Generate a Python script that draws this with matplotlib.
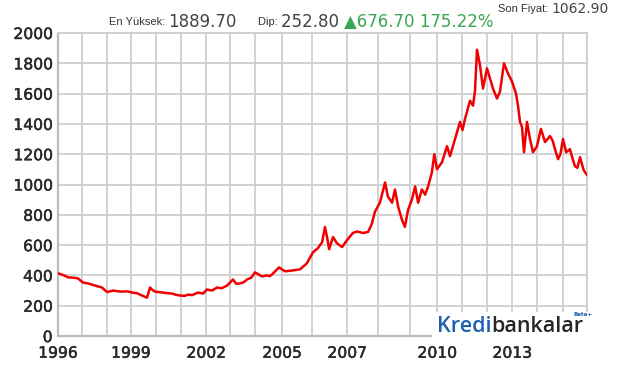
import numpy as np
import matplotlib
matplotlib.use("Agg")
import matplotlib.pyplot as plt
import matplotlib.patheffects as pe
from matplotlib.patches import Rectangle

# ---- data (decimal year, gold price) ----
dates = [1996.04, 1996.25, 1996.42, 1996.65, 1996.83, 1997.04, 1997.24, 1997.52, 1997.80, 1998.0,
         1998.25, 1998.45, 1998.63, 1998.85, 1999.04, 1999.25, 1999.44, 1999.64, 1999.76, 1999.85,
         1999.96, 2000.1, 2000.24, 2000.45, 2000.64, 2000.8, 2000.96, 2001.15, 2001.28, 2001.45,
         2001.68, 2001.88, 2002.04, 2002.25, 2002.46, 2002.65, 2002.88, 2003.12, 2003.25, 2003.40,
         2003.55, 2003.68, 2003.85, 2004.0, 2004.26, 2004.44, 2004.55, 2004.67, 2004.89, 2005.10,
         2005.37, 2005.60, 2005.83, 2006.03, 2006.17, 2006.29, 2006.37, 2006.43, 2006.49, 2006.60,
         2006.71, 2006.86, 2007.0, 2007.19, 2007.32, 2007.52, 2007.68, 2007.80, 2007.90, 2008.06,
         2008.22, 2008.31, 2008.44, 2008.53, 2008.63, 2008.75, 2008.84, 2008.94, 2009.07, 2009.19,
         2009.30, 2009.44, 2009.56, 2009.67, 2009.81, 2009.90, 2010.0, 2010.2, 2010.4, 2010.52,
         2010.72, 2010.92, 2011.02, 2011.12, 2011.32, 2011.44, 2011.52, 2011.60, 2011.72, 2011.84,
         2012.0, 2012.12, 2012.24, 2012.40, 2012.52, 2012.68, 2012.84, 2013.0, 2013.16, 2013.24,
         2013.32, 2013.40, 2013.48, 2013.60, 2013.72, 2013.84, 2014.0, 2014.15, 2014.31, 2014.50,
         2014.60, 2014.69, 2014.81, 2014.90, 2015.0, 2015.13, 2015.29, 2015.40, 2015.5, 2015.60,
         2015.71, 2015.85, 2015.92, 2016.0]
prices = [412, 400, 387, 385, 380, 353, 347, 333, 320, 290,
          300, 295, 293, 295, 287, 282, 267, 253, 320, 305,
          293, 290, 287, 283, 280, 272, 267, 265, 273, 270,
          287, 280, 307, 300, 320, 315, 333, 373, 345, 347,
          355, 373, 385, 420, 393, 400, 395, 413, 453, 427,
          433, 440, 480, 553, 580, 620, 720, 653, 573, 653,
          613, 587, 633, 680, 690, 680, 687, 740, 820, 880,
          1013, 920, 880, 967, 853, 767, 720, 833, 900, 987,
          880, 967, 933, 987, 1080, 1200, 1100, 1147, 1253, 1187,
          1300, 1413, 1360, 1433, 1553, 1520, 1620, 1890, 1787, 1633,
          1767, 1700, 1633, 1567, 1613, 1800, 1733, 1680, 1600, 1520,
          1413, 1380, 1213, 1413, 1300, 1213, 1253, 1367, 1280, 1320,
          1290, 1233, 1167, 1200, 1300, 1213, 1233, 1170, 1120, 1110,
          1180, 1100, 1080, 1063]

label_years = [1996, 1999, 2002, 2005, 2007, 2010, 2013]
grid_years = list(range(1996, 2017))
y_ticks = list(range(0, 2001, 200))

# ---- uneven time axis of the source chart (year -> relative position) ----
_year_knots = np.arange(1996, 2017)
_pos_knots = np.array([58, 82, 107, 131, 156, 181, 206, 230, 255, 282, 312,
                       347, 378, 410, 437, 462, 487, 512, 537, 563, 587], float)


def fwd(x):
    return np.interp(x, _year_knots, _pos_knots, left=_pos_knots[0], right=_pos_knots[-1])


def inv(p):
    return np.interp(p, _pos_knots, _year_knots)


W, H = 622, 370
fig = plt.figure(figsize=(W / 100, H / 100), dpi=100)
L, R, T, B = 58, 587, 33, 336
ax = fig.add_axes([L / W, 1 - B / H, (R - L) / W, (B - T) / H])

ax.set_xscale('function', functions=(fwd, inv))
ax.plot(dates, prices, color='#f00000', lw=1.8, zorder=3)
ax.set_xlim(1996, 2016)
ax.set_ylim(0, 2000)

ax.set_xticks(label_years)
ax.set_xticks(grid_years, minor=True)
ax.set_xticklabels([str(y) for y in label_years])
ax.set_yticks(y_ticks)
ax.set_yticklabels([str(v) for v in y_ticks])
ax.grid(True, which='both', color='#cfcfcf', lw=1.3, zorder=1)
ax.set_axisbelow(True)
ax.tick_params(which='both', length=0, labelsize=11.2, labelcolor='#2a2a2a')
ax.tick_params(axis='y', pad=4)
ax.tick_params(axis='x', pad=7)
for lab in ax.get_xticklabels() + ax.get_yticklabels():
    lab.set_path_effects([pe.withStroke(linewidth=0.35, foreground='#2a2a2a')])
for s in ['top', 'right']:
    ax.spines[s].set_color('#cfcfcf')
    ax.spines[s].set_linewidth(1.3)
for s in ['left', 'bottom']:
    ax.spines[s].set_color('#bdbdbd')
    ax.spines[s].set_linewidth(1.6)

# ---- logo box ----
fig.add_artist(Rectangle((432 / W, 1 - 340 / H), 163 / W, 28 / H, transform=fig.transFigure,
                         facecolor='white', edgecolor='none', zorder=5))
t1 = fig.text(437 / W, 1 - 327 / H, 'Kredi', color='#1b5fae', fontsize=15.5,
              family='Open Sans', va='center', ha='left', zorder=6, weight='semibold')
fig.canvas.draw()
bb = t1.get_window_extent()
fig.text(bb.x1 / W, 1 - 327 / H, 'bankalar', color='#262626', fontsize=15.5,
         family='Open Sans', va='center', ha='left', zorder=6, weight='semibold')
fig.text(583 / W, 1 - 314 / H, 'Beta+', color='#1b5fae', fontsize=4, ha='center',
         va='center', zorder=6, weight='bold')

# ---- header texts ----
def seq(x, y, parts):
    for txt, kw in parts:
        t = fig.text(x / W, 1 - y / H, txt, va='center', ha='left', **kw)
        fig.canvas.draw()
        x = t.get_window_extent().x1


small = dict(fontsize=8, family='Liberation Sans', color='#333333')
big = dict(fontsize=10, family='DejaVu Sans', color='#444444')
big2 = dict(fontsize=12, family='DejaVu Sans', color='#444444')
green = dict(fontsize=12, family='DejaVu Sans', color='#3aa651')

seq(498, 9, [('Son Fiyat: ', small), ('1062.90', big)])
seq(109, 22, [('En Yüksek: ', small), ('1889.70', big2)])
seq(258, 22, [('Dip: ', small), ('252.80 ', big2), ('▲676.70 175.22%', green)])

fig.savefig('out.png', dpi=100)
